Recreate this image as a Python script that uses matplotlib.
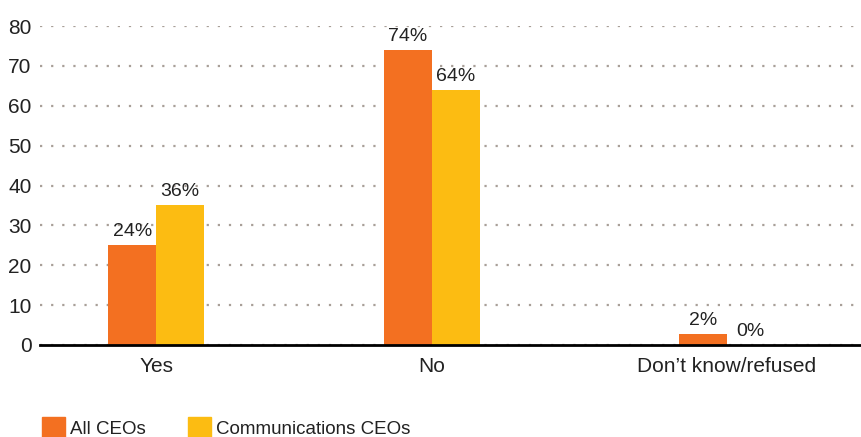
import numpy as np
import matplotlib.pyplot as plt
from matplotlib.patches import Rectangle

plt.rcParams['font.family'] = ['Liberation Sans', 'DejaVu Sans']

categories = ["Yes", "No", "Don\u2019t know/refused"]
all_ceos = [25, 74, 2.7]
comm_ceos = [35, 64, 0]
all_labels = ["24%", "74%", "2%"]
comm_labels = ["36%", "64%", "0%"]
series_names = ["All CEOs", "Communications CEOs"]
yticks = [0, 10, 20, 30, 40, 50, 60, 70, 80]

orange = "#f37021"
yellow = "#fcbc12"
text_col = "#222222"

fig = plt.figure(figsize=(8.61, 4.37), dpi=100)
ax = fig.add_axes([40 / 861, 1 - 345 / 437, 1 - 40 / 861, (345 - 26) / 437])

x = np.array([0, 0.967, 2])
w = 0.168
b1 = ax.bar(x - w / 2, all_ceos, w, color=orange, zorder=3)
b2 = ax.bar(x + w / 2, comm_ceos, w, color=yellow, zorder=3)

for bars, labs in [(b1, all_labels), (b2, comm_labels)]:
    for r, lab in zip(bars, labs):
        ax.text(r.get_x() + r.get_width() / 2, r.get_height() + 1.3, lab,
                ha="center", va="bottom", fontsize=14, color=text_col)

ax.set_xlim(-0.407, 2.47)
ax.set_ylim(0, 80)
ax.set_yticks(yticks)
ax.set_xticks(x)
ax.set_xticklabels(categories, fontsize=15, color=text_col)
ax.tick_params(axis="both", length=0, colors=text_col)
ax.tick_params(axis="y", pad=6, labelsize=15)
ax.tick_params(axis="x", pad=9)
ax.yaxis.grid(True, linestyle=(0, (1, 4)), color="#a89f98", linewidth=1.6, zorder=0)
for s in ["top", "right", "left"]:
    ax.spines[s].set_visible(False)
ax.spines["bottom"].set_color("black")
ax.spines["bottom"].set_linewidth(2)
ax.spines["bottom"].set_zorder(4)

# legend
for px, col, name in [(42, orange, series_names[0]), (188, yellow, series_names[1])]:
    fig.patches.append(Rectangle((px / 861, 0), 23 / 861, 20 / 437,
                                 transform=fig.transFigure, color=col))
    fig.text((px + 28) / 861, 1 - 430 / 437, name, fontsize=13.5,
             color=text_col, va="center", ha="left")

fig.savefig("out.png", dpi=100)
